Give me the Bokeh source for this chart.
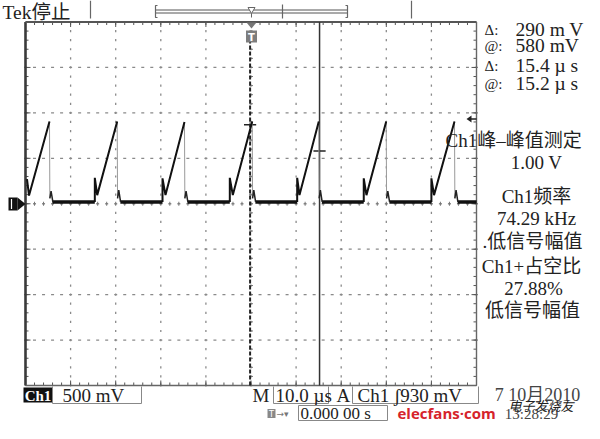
import numpy as np
from bokeh.plotting import figure
from bokeh.models import Range1d
from bokeh.core.properties import value
from bokeh.embed import file_html
from bokeh.resources import INLINE

TIME_DIV_US = 10.0          # "M 10.0 µs"
VOLT_DIV_MV = 500.0         # "Ch1 500 mV"
N_HDIV, N_VDIV = 10, 8

# one entry per sawtooth cycle: time in µs from left graticule edge, level in mV
spike_t  = [0.33, 15.37, 30.38, 45.30, 60.24, 75.00, 90.00]
spike_v  = [270, 285, 280, 285, 285, 280, 280]
trough_t = [0.78, 15.90, 31.04, 45.97, 60.75, 75.60, 90.58]
trough_v = [90, 95, 95, 95, 95, 95, 95]
peak_t   = [5.32, 20.33, 35.25, 50.27, 65.03, 79.98, 95.12]
peak_v   = [905, 905, 900, 905, 905, 905, 905]
drop_v   = [60, 60, 60, 60, 60, 60, 60]
ring_v   = [140, 150, 140, 150, 150, 140, 150]
base_v   = [20, 20, 20, 20, 20, 20, 20]

cursor_t = [49.8, 65.2]
cursor_v = [870, 580]
trig_level_mv = 930
trig_pos_us = 50.0

readout_sym = ["Δ:", "@:", "Δ:", "@:"]
readout_val = ["290 m V", "580 mV", "15.4 µ s", "15.2 µ s"]
meas_lines = ["Ch1峰–峰值测定", "1.00 V", "Ch1频率", "74.29 kHz",
              ".低信号幅值", "Ch1+占空比", "27.88%", "低信号幅值"]

# ---------------- layout (reference pixel geometry) ----------------
W, H = 584, 423
OX, OY = 0, 0
GX0, GX1, GY0, GY1 = 25.0, 476.0, 21.5, 385.0
T_END = N_HDIV * TIME_DIV_US
V_MAX = N_VDIV * VOLT_DIV_MV / 2
ppu = (GX1 - GX0) / T_END            # px per µs
ppm = (GY1 - GY0) / (2 * V_MAX)      # px per mV
ymid = (GY0 + GY1) / 2

t_left = (OX - GX0) / ppu
t_right = (OX + W - GX0) / ppu
v_top = (ymid - OY) / ppm
v_bot = (ymid - (OY + H)) / ppm

p = figure(width=W, height=H, x_range=Range1d(t_left, t_right),
           y_range=Range1d(v_bot, v_top), output_backend="svg",
           toolbar_location=None, min_border=0)
p.axis.visible = False
p.grid.visible = False
p.outline_line_color = None
p.background_fill_color = "white"
p.border_fill_color = "white"
p.extra_x_ranges = {"px": Range1d(OX, OX + W)}
p.extra_y_ranges = {"py": Range1d(OY + H, OY)}
PX = dict(x_range_name="px", y_range_name="py")

SERIF = value("Liberation Serif, Noto Sans CJK SC")
GRID = "#8a8a8a"

# ---------------- graticule ----------------
minor_t = np.arange(0, T_END + 0.01, TIME_DIV_US / 5)
minor_v = np.arange(-V_MAX, V_MAX + 0.1, VOLT_DIV_MV / 5)
major_t = np.arange(TIME_DIV_US, T_END - 0.01, TIME_DIV_US)
major_v = np.arange(-V_MAX + VOLT_DIV_MV, V_MAX - 0.1, VOLT_DIV_MV)

vx = np.repeat(major_t, len(minor_v))
vy = np.tile(minor_v, len(major_t))
p.rect(vx, vy, width=1.3, height=2.2, width_units="screen", height_units="screen",
       fill_color=GRID, line_color=None)
hx = np.tile(minor_t, len(major_v))
hy = np.repeat(major_v, len(minor_t))
p.rect(hx, hy, width=3, height=1.3, width_units="screen", height_units="screen",
       fill_color=GRID, line_color=None)

def hticks(vals_t, v0, length_px, color="#555", width=1):
    dv = length_px / ppm
    p.segment(x0=vals_t, x1=vals_t, y0=[v0] * len(vals_t), y1=[v0 + dv] * len(vals_t),
              line_color=color, line_width=width)

def vticks(vals_v, t0, length_px, color="#555", width=1):
    dt = length_px / ppu
    p.segment(x0=[t0] * len(vals_v), x1=[t0 + dt] * len(vals_v), y0=vals_v, y1=vals_v,
              line_color=color, line_width=width)

hticks(minor_t, V_MAX, -3)
hticks(major_t, V_MAX, -5)
hticks(minor_t, -V_MAX, 3)
hticks(major_t, -V_MAX, 5)
vticks(minor_v, 0, 3)
vticks(major_v, 0, 5)
vticks(minor_v, T_END, -3)
vticks(major_v, T_END, -5)
hticks(minor_t, -2 / ppm, 4, color="#777")
vticks(minor_v, T_END / 2 - 2 / ppu, 4, color="#777")

p.line([0, 0], [-V_MAX, V_MAX], line_color="#3a3a3a", line_width=2.6)
p.line([0, T_END], [V_MAX, V_MAX], line_color="#555", line_width=2)
p.line([T_END, T_END], [-V_MAX, V_MAX], line_color="#666", line_width=1.4)
p.line([0, T_END], [-V_MAX, -V_MAX], line_color="#666", line_width=1.4)

# ---------------- cursors ----------------
p.line([cursor_t[0], cursor_t[0]], [-V_MAX, (ymid - 41) / ppm],
       line_color="#222", line_width=2, line_dash="4 2")
p.line([cursor_t[1], cursor_t[1]], [-V_MAX, V_MAX], line_color="#333", line_width=1.5)
p.segment(x0=[t - 1.35 for t in cursor_t], x1=[t + 1.35 for t in cursor_t],
          y0=cursor_v, y1=cursor_v, line_color="#222", line_width=1.5)

# ---------------- waveform ----------------
n = len(peak_t)
ramps_x, ramps_y, fall_x, fall_y, ring_x, ring_y, base_x, base_y = ([] for _ in range(8))
for i in range(n):
    rx = ([spike_t[i]] if i == 0 else [spike_t[i], spike_t[i]]) + [trough_t[i], peak_t[i]]
    ry = ([spike_v[i]] if i == 0 else [base_v[i - 1], spike_v[i]]) + [trough_v[i], peak_v[i]]
    ramps_x.append(rx); ramps_y.append(ry)
    fall_x.append([peak_t[i], peak_t[i] + 0.08]); fall_y.append([peak_v[i], drop_v[i]])
    ring_x.append([peak_t[i] + 0.08, peak_t[i] + 0.35, peak_t[i] + 0.75])
    ring_y.append([drop_v[i], ring_v[i], base_v[i]])
    end = spike_t[i + 1] if i + 1 < n else T_END
    base_x.append([peak_t[i] + 0.7, end]); base_y.append([base_v[i], base_v[i]])

p.multi_line(base_x, base_y, line_color="#111", line_width=3.6)
p.multi_line(fall_x, fall_y, line_color="#9a9a9a", line_width=1)
p.multi_line(ring_x, ring_y, line_color="#222", line_width=1.5)
p.multi_line(ramps_x, ramps_y, line_color="#111", line_width=2)

# ---------------- markers ----------------
p.rect(x=[12.5], y=[203.5], width=9, height=13, fill_color="#111", line_color=None, **PX)
p.line(x=[11, 11], y=[198.5, 208.5], line_color="white", line_width=1.2, **PX)
p.patch(x=[17, 25, 17], y=[197, 203.5, 210], fill_color="#111", line_color=None, **PX)
p.line(x=[469, 476], y=[118.5, 118.5], line_color="#222", line_width=1.5, **PX)
p.patch(x=[466, 471, 471], y=[118.5, 115, 122], fill_color="#222", line_color=None, **PX)
p.patch(x=[246, 256, 251], y=[22, 22, 28], fill_color="#777", line_color=None, **PX)
p.rect(x=[251], y=[36], width=11, height=12, fill_color="#7d7d7d", line_color=None, **PX)
p.text(x=[251], y=[36.5], text=["T"], text_font=value("DejaVu Sans"), text_font_style="bold",
       text_font_size="10px", text_color="white", text_align="center",
       text_baseline="middle", **PX)

# top status bar (record view)
p.line(x=[155, 347, 347, 155, 155], y=[9.5, 9.5, 12.5, 12.5, 9.5], line_color="#555",
       line_width=1, **PX)
p.multi_line(xs=[[157, 155, 155, 157], [345, 347, 347, 345], [90, 90], [282, 282], [411, 411]],
             ys=[[5, 5, 17, 17], [5, 5, 17, 17], [0, 18], [4, 18], [0, 18]],
             line_color="#666", line_width=1.2, **PX)
p.patch(x=[247.5, 254.5, 251], y=[7, 7, 13], fill_color="white", line_color="#666",
        line_width=1, **PX)
p.line(x=[251, 251], y=[13, 17], line_color="#666", line_width=1, **PX)

# ---------------- texts ----------------
p.text(x=[2], y=[12], text=["Tek停止"], text_font=SERIF, text_font_size="19.5px",
       text_color="#222", text_baseline="middle", **PX)

rows_y = [29, 45, 65, 83]
p.text(x=[484] * 4, y=rows_y, text=readout_sym, text_font=SERIF, text_font_size="15px",
       text_color="#222", text_baseline="middle", **PX)
p.text(x=[515] * 4, y=rows_y, text=readout_val, text_font=SERIF, text_font_size="19.5px",
       text_color="#222", text_baseline="middle", **PX)

p.text(x=[445], y=[140], text=[meas_lines[0]], text_font=SERIF, text_font_size="19px",
       text_color="#222", text_baseline="middle", **PX)
meas_x = [536, 536, 536, 532, 531, 533, 532]
meas_y = [162, 196, 218, 241, 266, 288, 310]
p.text(x=meas_x, y=meas_y, text=meas_lines[1:], text_font=SERIF, text_font_size="19px",
       text_color="#222", text_align="center", text_baseline="middle", **PX)

# bottom status line
p.rect(x=[37.5], y=[394.5], width=29, height=15, fill_color="#111", line_color=None, **PX)
p.text(x=[37.5], y=[395], text=["Ch1"], text_font=SERIF, text_font_style="bold",
       text_font_size="15px", text_color="white", text_align="center",
       text_baseline="middle", **PX)
box_l = [52, 273, 352]
box_r = [141, 328, 478]
p.multi_line(xs=[[l, l, r, r] for l, r in zip(box_l, box_r)],
             ys=[[386, 403, 403, 386]] * 3, line_color="#888", line_width=1, **PX)
p.text(x=[62, 252, 275, 336, 357], y=[395] * 5,
       text=["500 mV", "M", "10.0 µs", "A", "Ch1 ʃ930 mV"],
       text_font=SERIF, text_font_size="19px", text_color="#222",
       text_baseline="middle", **PX)

# horizontal position readout (moved up to stay inside the canvas)
p.rect(x=[271], y=[413], width=8, height=9, fill_color="#888", line_color=None, **PX)
p.text(x=[271], y=[413.5], text=["T"], text_font=value("DejaVu Sans"),
       text_font_size="8px", text_color="white", text_align="center",
       text_baseline="middle", **PX)
p.text(x=[276], y=[413], text=["→▾"], text_font=value("DejaVu Sans"),
       text_font_size="9px", text_color="#777", text_baseline="middle", **PX)
p.line(x=[298, 298, 387, 387, 298], y=[420, 405, 405, 420, 420], line_color="#888",
       line_width=1, **PX)
p.text(x=[300], y=[412.5], text=["0.000 00 s"], text_font=SERIF, text_font_size="17px",
       text_color="#222", text_baseline="middle", **PX)

# date / time and watermark
p.text(x=[537], y=[394], text=["7 10月2010"], text_font=SERIF, text_font_size="18px",
       text_color="#444", text_align="center", text_baseline="middle", **PX)
p.text(x=[531], y=[413], text=["13:28:29"], text_font=SERIF, text_font_size="15px",
       text_color="#444", text_align="center", text_baseline="middle", **PX)
p.text(x=[397], y=[412], text=["elecfans·com"], text_font=value("Open Sans"),
       text_font_style="bold", text_font_size="15px", text_color="#d6232b",
       text_baseline="middle", **PX)
p.text(x=[508], y=[405], text=["电子发烧友"], text_font=value("Noto Sans CJK SC"),
       text_font_style="italic", text_font_size="13px", text_color="#222",
       text_baseline="middle", **PX)

open("out.html", "w").write(file_html(p, INLINE))
